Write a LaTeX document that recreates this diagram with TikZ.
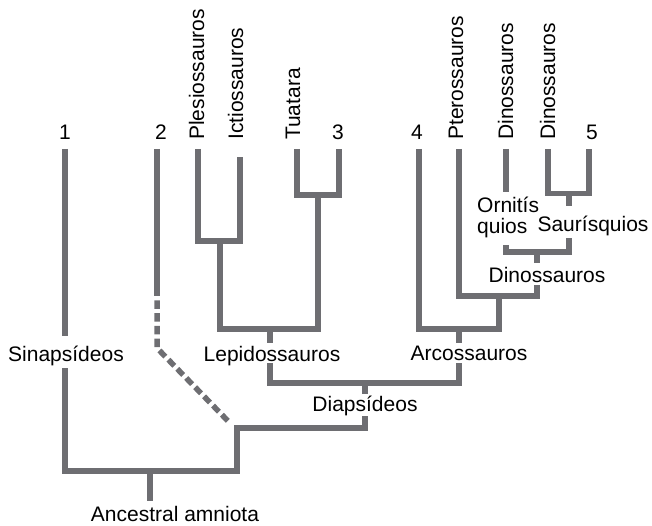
\documentclass[tikz,border=0pt]{standalone}
\usepackage{fontspec}
\setmainfont{Liberation Sans}
\definecolor{brc}{RGB}{110,110,114}
\begin{document}
\begin{tikzpicture}[x=1pt,y=-1pt,
  br/.style={line width=5.5pt, draw=brc, line join=miter, line cap=butt},
  brdash/.style={br, dash pattern=on 8.5pt off 4.3pt, dash phase=8.5pt},
  lab/.style={inner sep=0pt, font=\fontsize{21}{25}\selectfont},
  vlab/.style={lab, rotate=90, anchor=base west}]
\useasboundingbox (0,0) rectangle (652,526);

% tips
\coordinate (t1) at (65,149);
\coordinate (t2) at (157,149);
\coordinate (tPl) at (198,149);
\coordinate (tIc) at (240,157);
\coordinate (tTu) at (297,149);
\coordinate (t3) at (339,149);
\coordinate (t4) at (419,149);
\coordinate (tPt) at (459,149);
\coordinate (tOr) at (506,149);
\coordinate (tDa) at (548,149);
\coordinate (t5) at (589,149);

% internal nodes
\coordinate (root) at (150,471);
\coordinate (rootEnd) at (150,501);
\coordinate (dv) at (237,428);
\coordinate (dia) at (365,383);
\coordinate (diaA) at (365,394);
\coordinate (diaB) at (365,416);
\coordinate (lep) at (270,329);
\coordinate (lepA) at (270,343);
\coordinate (lepB) at (270,363);
\coordinate (ple) at (220,241);
\coordinate (tua) at (318,195);
\coordinate (arc) at (459,329);
\coordinate (arcA) at (459,343);
\coordinate (arcB) at (459,363);
\coordinate (ptr) at (499,296);
\coordinate (din) at (537,252);
\coordinate (dinA) at (537,263);
\coordinate (dinB) at (537,285);
\coordinate (ornA) at (506,192);
\coordinate (ornB) at (506,245);
\coordinate (sau) at (569,193.5);
\coordinate (sauA) at (569,206);
\coordinate (sauB) at (569,238);
\coordinate (sinA) at (65,336);
\coordinate (sinB) at (65,368);
\coordinate (t2d) at (157,296);
\coordinate (t2c) at (157,348);
\coordinate (t2e) at (228,421);

% top labels
\node[lab, anchor=base] (n1) at (65,140) {1};
\node[lab, anchor=base] (n2) at (161,140) {2};
\node[lab, anchor=base] (n3) at (338,140) {3};
\node[lab, anchor=base] (n4) at (417,140) {4};
\node[lab, anchor=base] (n5) at (592,140) {5};
\node[vlab] (pl) at (204,140) {Plesiossauros};
\node[vlab] (ic) at (243,140) {Ictiossauros};
\node[vlab] (tu) at (300,140) {Tuatara};
\node[vlab] (pt) at (463,140) {Pterossauros};
\node[vlab] (da) at (513,140) {Dinossauros};
\node[vlab] (db) at (555,140) {Dinossauros};

% clade labels
\node[lab, anchor=base] (sinL) at (66,361) {Sinapsídeos};
\node[lab, anchor=base] (lepL) at (272,361) {Lepidossauros};
\node[lab, anchor=base] (arcL) at (469,360) {Arcossauros};
\node[lab, anchor=base] (diaL) at (365,411.5) {Diapsídeos};
\node[lab, anchor=base] (dinL) at (547,282) {Dinossauros};
\node[lab, anchor=base] (sauL) at (593,232) {Saurísquios};
\node[lab, anchor=base west] (orn1) at (477,213) {Ornitís};
\node[lab, anchor=base west] (orn2) at (477,234) {quios};
\node[lab, anchor=base] (anc) at (175,521) {Ancestral amniota};

% branches
\draw[br] (root) -- (rootEnd);
\draw[br] (t1) -- (sinA);
\draw[br] (sinB) -- (t1 |- root) -- (dv |- root) -- (dv) -- (dia |- dv) -- (diaB);
\draw[br] (dia) -- (diaA);
\draw[br] (lepB) -- (lep |- dia) -- (arc |- dia) -- (arcB);
\draw[br] (lep) -- (lepA);
\draw[br] (arc) -- (arcA);
\draw[br] (tPl) -- (tPl |- ple) -- (tIc |- ple) -- (tIc);
\draw[br] (ple) -- (ple |- lep) -- (tua |- lep) -- (tua);
\draw[br] (tTu) -- (tTu |- tua) -- (t3 |- tua) -- (t3);
\draw[br] (t4) -- (t4 |- arc) -- (ptr |- arc) -- (ptr);
\draw[br] (tPt) -- (tPt |- ptr) -- (din |- ptr) -- (dinB);
\draw[br] (din) -- (dinA);
\draw[br] (ornB) -- (ornB |- din) -- (sauB |- din) -- (sauB);
\draw[br] (tOr) -- (ornA);
\draw[br] (tDa) -- (tDa |- sau) -- (t5 |- sau) -- (t5);
\draw[br] (sau) -- (sauA);
\draw[br] (t2) -- (t2d);
\draw[brdash] (t2d) -- (t2c) -- (t2e);
\end{tikzpicture}
\end{document}
